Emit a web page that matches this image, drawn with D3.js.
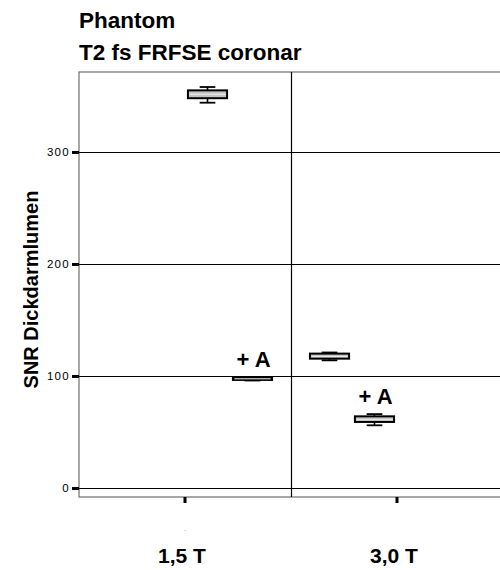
<!DOCTYPE html>
<html><head><meta charset="utf-8">
<script src="https://cdn.jsdelivr.net/npm/d3@7"></script>
<style>body{margin:0;background:#fff}svg{display:block}</style>
</head><body>
<script>
// ---- data ----
const categories = ["1,5 T", "3,0 T"];
const clusters = ["3,0 T", "3,0 T + A", "1,5 T", "1,5 T + A"];
const boxCategory = ["1,5 T", "1,5 T", "3,0 T", "3,0 T"];
const boxCluster  = ["1,5 T", "1,5 T + A", "3,0 T", "3,0 T + A"];
const whiskerLow  = [344, 96, 114, 56];
const q1Values    = [348, 96.5, 115.5, 59];
const medians     = [351.5, 97.5, 117.5, 61];
const q3Values    = [355, 98.5, 120, 64];
const whiskerHigh = [358, 99, 121, 66];
const annotations = ["", "+ A", "", "+ A"];
const yTicks = [0, 100, 200, 300];
const titleLines = ["Phantom", "T2 fs FRFSE coronar"];
const yTitle = "SNR Dickdarmlumen";

const W = 500, H = 570;
const m = {left: 79, top: 72, right: 503, bottom: 497};
const svg = d3.select("body").append("svg").attr("width", W).attr("height", H)
  .style("font-family", "Arial, 'Liberation Sans', sans-serif");

const x = d3.scaleBand().domain(categories).range([m.left, m.right]).padding(0);
const xi = d3.scaleBand().domain(clusters).range([-90, 90]).padding(0);
const y = d3.scaleLinear().domain([-8, 371.4]).range([m.bottom, m.top]);

// frame
svg.append("rect").attr("x", m.left).attr("y", m.top)
  .attr("width", m.right - m.left).attr("height", m.bottom - m.top)
  .attr("fill", "none").attr("stroke", "#6e6e6e").attr("stroke-width", 1.2);

// grid lines
svg.append("g").selectAll("line").data(yTicks).join("line")
  .attr("x1", m.left).attr("x2", m.right)
  .attr("y1", d => Math.round(y(d)) + 0.5).attr("y2", d => Math.round(y(d)) + 0.5)
  .attr("stroke", "#000").attr("stroke-width", 1.2);

// category divider
svg.append("line").attr("x1", x(categories[1]) + 0.5).attr("x2", x(categories[1]) + 0.5)
  .attr("y1", m.top).attr("y2", m.bottom).attr("stroke", "#000").attr("stroke-width", 1.2);

// y axis
const yAxis = svg.append("g").attr("transform", `translate(${m.left},0)`)
  .call(d3.axisLeft(y).tickValues(yTicks).tickSize(7).tickPadding(2));
yAxis.select(".domain").remove();
yAxis.selectAll(".tick line").attr("stroke", "#000").attr("stroke-width", 3);
yAxis.selectAll(".tick text").attr("font-size", 11.5).attr("letter-spacing", "1.3px")
  .attr("fill", "#000").attr("font-family", "Arial, 'Liberation Sans', sans-serif");

// x axis
const xAxis = svg.append("g").attr("transform", `translate(0,${m.bottom})`)
  .call(d3.axisBottom(x).tickSize(6).tickFormat(""));
xAxis.select(".domain").remove();
xAxis.selectAll(".tick line").attr("stroke", "#000").attr("stroke-width", 3);

// category labels
svg.append("g").selectAll("text").data(categories).join("text")
  .attr("x", d => x(d) + x.bandwidth() / 2 - 3).attr("y", 563)
  .attr("text-anchor", "middle").attr("font-size", 21).attr("font-weight", "bold")
  .text(d => d);
// tiny empty-label mark
svg.append("text").attr("x", x(categories[0]) + x.bandwidth() / 2).attr("y", 532)
  .attr("text-anchor", "middle").attr("font-size", 6).attr("fill", "#999").text("-");

// boxes
const boxes = boxCategory.map((c, i) => ({
  c, k: boxCluster[i], lo: whiskerLow[i], q1: q1Values[i], med: medians[i],
  q3: q3Values[i], hi: whiskerHigh[i], ann: annotations[i]
}));
const bw = xi.bandwidth() * 0.87, cap = bw * 0.4;
const g = svg.append("g").selectAll("g").data(boxes).join("g")
  .attr("transform", d => `translate(${x(d.c) + x.bandwidth() / 2 + xi(d.k) + xi.bandwidth() / 2},0)`);
g.append("line").attr("x1", 0).attr("x2", 0).attr("y1", d => y(d.hi)).attr("y2", d => y(d.lo))
  .attr("stroke", "#000").attr("stroke-width", 1.6);
g.append("line").attr("x1", -cap / 2).attr("x2", cap / 2).attr("y1", d => y(d.hi)).attr("y2", d => y(d.hi))
  .attr("stroke", "#000").attr("stroke-width", 1.8);
g.append("line").attr("x1", -cap / 2).attr("x2", cap / 2).attr("y1", d => y(d.lo)).attr("y2", d => y(d.lo))
  .attr("stroke", "#000").attr("stroke-width", 1.8);
g.append("rect").attr("x", -bw / 2).attr("width", bw)
  .attr("y", d => y(d.q3)).attr("height", d => y(d.q1) - y(d.q3))
  .attr("fill", "#c4c4c4").attr("stroke", "#000").attr("stroke-width", 2);
g.append("line").attr("x1", -bw / 2 + 1.5).attr("x2", bw / 2 - 1.5)
  .attr("y1", d => y(d.med)).attr("y2", d => y(d.med))
  .attr("stroke", "#eeeeee").attr("stroke-width", 1);
g.append("text").attr("x", 1).attr("y", d => y(d.hi) - 10)
  .attr("text-anchor", "middle").attr("font-size", 22).attr("font-weight", "bold")
  .text(d => d.ann);

// titles
svg.append("g").selectAll("text").data(titleLines).join("text")
  .attr("x", m.left).attr("y", (d, i) => 28 + i * 32)
  .attr("font-size", 22.5).attr("font-weight", "bold").text(d => d);

svg.append("text").attr("transform", `translate(38,${(m.top + m.bottom) / 2 + 5}) rotate(-90)`)
  .attr("text-anchor", "middle").attr("font-size", 20).attr("font-weight", "bold").text(yTitle);
</script>
</body></html>
